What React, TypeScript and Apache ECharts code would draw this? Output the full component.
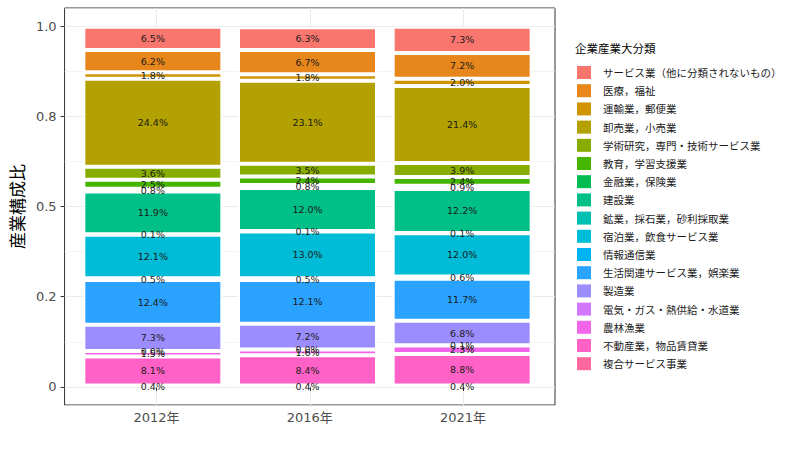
import * as echarts from 'echarts';
import React, { useEffect, useRef } from 'react';

// 年次
const years = ['2012年', '2016年', '2021年'];

// 凡例の並び（積み上げの上から順）
const industries = [
  'サービス業（他に分類されないもの）',
  '医療，福祉',
  '運輸業，郵便業',
  '卸売業，小売業',
  '学術研究，専門・技術サービス業',
  '教育，学習支援業',
  '金融業，保険業',
  '建設業',
  '鉱業，採石業，砂利採取業',
  '宿泊業，飲食サービス業',
  '情報通信業',
  '生活関連サービス業，娯楽業',
  '製造業',
  '電気・ガス・熱供給・水道業',
  '農林漁業',
  '不動産業，物品賃貸業',
  '複合サービス事業',
];

const industryColors = [
  '#F8766D', '#E7861B', '#D09400', '#B2A100', '#89AC00', '#45B500',
  '#00BC51', '#00C087', '#00C0B2', '#00BCD6', '#00B3F2', '#29A3FF',
  '#9C8DFF', '#D277FF', '#F166E8', '#FF61C7', '#FF689E',
];

// 構成比（%）: 2012, 2016, 2021
const serviceOther = [6.5, 6.3, 7.3];
const medical = [6.2, 6.7, 7.2];
const transport = [1.8, 1.8, 2.0];
const wholesale = [24.4, 23.1, 21.4];
const research = [3.6, 3.5, 3.9];
const education = [2.5, 2.4, 2.4];
const finance = [0.8, 0.8, 0.9];
const construction = [11.9, 12.0, 12.2];
const mining = [0.1, 0.1, 0.1];
const accommodation = [12.1, 13.0, 12.0];
const information = [0.5, 0.5, 0.6];
const livingService = [12.4, 12.1, 11.7];
const manufacturing = [7.3, 7.2, 6.8];
const utilities = [0.0, 0.0, 0.1];
const agriculture = [1.5, 1.6, 2.3];
const realEstate = [8.1, 8.4, 8.8];
const compound = [0.4, 0.4, 0.4];

const industryValues = [
  serviceOther, medical, transport, wholesale, research, education, finance,
  construction, mining, accommodation, information, livingService,
  manufacturing, utilities, agriculture, realEstate, compound,
];

// y軸の目盛り
const yTickValues = [0, 0.25, 0.5, 0.75, 1];
const yTickLabels = ['0', '0.2', '0.5', '0.8', '1.0'];
const xTickValues = [1, 2, 3];

const numFont = 'DejaVu Sans, Noto Sans CJK JP, sans-serif';
const jpFont = 'Noto Sans CJK JP, sans-serif';

const App: React.FC = () => {
  const chartRef = useRef<HTMLDivElement>(null);

  useEffect(() => {
    if (!chartRef.current) return;
    const chart = echarts.init(chartRef.current, null, { renderer: 'svg' });

    // 下から積み上げるので逆順
    const order = industries.map((_, i) => i).reverse();

    const option: echarts.EChartsOption = {
      animation: false,
      title: {
        text: '企業産業大分類',
        left: 575,
        top: 42,
        padding: 0,
        textStyle: { fontSize: 11.5, fontWeight: 'normal', color: '#000', fontFamily: jpFont },
      },
      legend: {
        data: industries,
        orient: 'vertical',
        left: 577,
        top: 66,
        padding: 0,
        itemWidth: 14,
        itemHeight: 13,
        itemGap: 5.2,
        icon: 'rect',
        selectedMode: false,
        itemStyle: { borderWidth: 0 },
        textStyle: { fontSize: 10.5, color: '#1a1a1a', fontFamily: jpFont, padding: [0, 0, 0, 7] },
      },
      grid: [
        // 棒を描く領域
        { left: 75.5, width: 464, top: 27, bottom: 70, show: false },
        // パネル（枠・目盛り）
        { left: 60, right: 245, top: 8, bottom: 52, show: true, borderColor: '#333', borderWidth: 1 },
      ],
      xAxis: [
        { type: 'category', gridIndex: 0, data: years, show: false },
        {
          type: 'value',
          gridIndex: 1,
          min: 0.4,
          max: 3.6,
          minInterval: 1,
          maxInterval: 1,
          axisLine: { show: false },
          axisTick: { show: true, length: 4, lineStyle: { color: '#333' }, customValues: xTickValues },
          axisLabel: {
            margin: 6,
            fontSize: 13,
            color: '#4D4D4D',
            fontFamily: numFont,
            customValues: xTickValues,
            formatter: (v: number) => {
              const i = xTickValues.findIndex((t) => Math.abs(t - v) < 1e-6);
              return i >= 0 ? years[i] : '';
            },
          },
          splitLine: { show: true, lineStyle: { color: '#EBEBEB', width: 1 } },
        },
      ],
      yAxis: [
        { type: 'value', gridIndex: 0, min: 0, max: 1, show: false },
        {
          type: 'value',
          gridIndex: 1,
          min: -0.05,
          max: 1.05,
          minInterval: 0.25,
          maxInterval: 0.25,
          name: '産業構成比',
          nameLocation: 'middle',
          nameGap: 36,
          nameRotate: 90,
          nameTextStyle: { fontSize: 17, color: '#000', fontFamily: jpFont },
          axisLine: { show: false },
          axisTick: { show: true, length: 4, lineStyle: { color: '#333' }, customValues: yTickValues },
          axisLabel: {
            margin: 8,
            fontSize: 13,
            color: '#4D4D4D',
            fontFamily: numFont,
            customValues: yTickValues,
            formatter: (v: number) => {
              const i = yTickValues.findIndex((t) => Math.abs(t - v) < 1e-6);
              return i >= 0 ? yTickLabels[i] : '';
            },
          },
          splitLine: { show: true, lineStyle: { color: '#EBEBEB', width: 1 } },
        },
        {
          // 補助目盛線
          type: 'value',
          gridIndex: 1,
          min: -0.05,
          max: 1.05,
          minInterval: 0.125,
          maxInterval: 0.125,
          axisLine: { show: false },
          axisTick: { show: false },
          axisLabel: { show: false },
          splitLine: { show: true, lineStyle: { color: '#EBEBEB', width: 0.6 } },
        },
      ],
      series: order.map((idx) => ({
        name: industries[idx],
        type: 'bar',
        stack: 'total',
        xAxisIndex: 0,
        yAxisIndex: 0,
        barWidth: 139,
        data: industryValues[idx].map((v) => v / 100),
        itemStyle: { color: industryColors[idx], borderColor: '#fff', borderWidth: 2 },
        label: {
          show: true,
          position: 'inside',
          fontSize: 9.5,
          color: '#1a1a1a',
          fontFamily: numFont,
          formatter: (p: any) => `${(p.value * 100).toFixed(1)}%`,
        },
      })),
    };

    chart.setOption(option);

    return () => {
      chart.dispose();
    };
  }, []);

  return (
    <div
      ref={chartRef}
      style={{ position: 'absolute', left: 0, top: 0, width: 800, height: 457 }}
    />
  );
};

export default App;
